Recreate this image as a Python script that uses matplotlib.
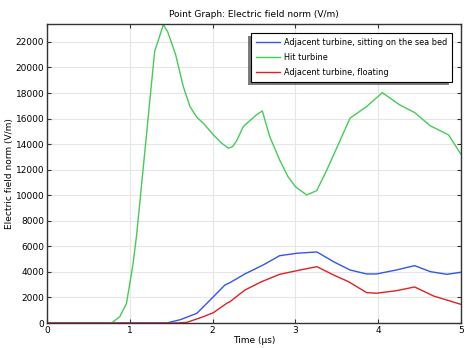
import matplotlib
matplotlib.use("Agg")
import matplotlib.pyplot as plt
import matplotlib.patheffects as pe

t_green = [0, 0.5, 0.78, 0.88, 0.96, 1.0, 1.04, 1.08, 1.12, 1.16, 1.30, 1.405, 1.457, 1.554, 1.646, 1.727, 1.81, 1.896, 2.01, 2.11, 2.19, 2.24, 2.29, 2.37, 2.45, 2.53, 2.60, 2.69, 2.81, 2.91, 3.0, 3.136, 3.257, 3.38, 3.66, 3.86, 4.05, 4.26, 4.44, 4.63, 4.85, 5.0]
e_green = [0, 0, 0, 500, 1540, 3100, 4670, 6760, 9370, 12000, 21250, 23340, 22800, 20990, 18500, 16940, 16100, 15580, 14720, 14070, 13680, 13800, 14250, 15370, 15840, 16290, 16600, 14590, 12760, 11460, 10670, 10020, 10360, 11980, 16030, 16940, 18030, 17070, 16470, 15430, 14720, 13210]

t_blue = [0, 1.0, 1.445, 1.61, 1.81, 2.01, 2.15, 2.21, 2.39, 2.61, 2.81, 3.02, 3.26, 3.46, 3.66, 3.86, 3.98, 4.22, 4.44, 4.63, 4.83, 5.0]
e_blue = [0, 0, 0, 260, 760, 2060, 2980, 3160, 3840, 4540, 5270, 5460, 5560, 4800, 4150, 3840, 3840, 4150, 4490, 4020, 3810, 3970]

t_red = [0, 1.0, 1.55, 1.69, 1.89, 2.01, 2.17, 2.21, 2.39, 2.59, 2.81, 3.02, 3.26, 3.46, 3.64, 3.86, 3.98, 4.22, 4.44, 4.67, 5.0]
e_red = [0, 0, 0, 50, 500, 810, 1540, 1670, 2580, 3230, 3810, 4100, 4410, 3760, 3240, 2380, 2330, 2530, 2820, 2110, 1460]

labels = ["Adjacent turbine, sitting on the sea bed", "Hit turbine", "Adjacent turbine, floating"]

fig = plt.figure(figsize=(4.73, 3.48), dpi=100)
ax = fig.add_axes([0.0994, 0.0718, 0.8752, 0.8592])
ax.plot(t_blue, e_blue, color="#3355ee", lw=1.0, label=labels[0])
ax.plot(t_green, e_green, color="#44cc55", lw=1.0, label=labels[1])
ax.plot(t_red, e_red, color="#dd2222", lw=1.0, label=labels[2])

ax.set_xlim(0, 5)
ax.set_ylim(0, 23400)
ax.set_xticks([0, 1, 2, 3, 4, 5])
ax.set_yticks(range(0, 23000, 2000))
ax.grid(True, color="#e6e6e6", lw=0.8)
ax.tick_params(direction="in", top=True, right=True, labelsize=6.5, length=3, pad=2,
               colors="#333333", labelcolor="black")
for s in ax.spines.values():
    s.set_color("#333333")
    s.set_linewidth(1.0)
ax.set_xlabel("Time (µs)", fontsize=6.5, labelpad=1)
ax.set_ylabel("Electric field norm (V/m)", fontsize=6.5, labelpad=1)
ax.set_title("Point Graph: Electric field norm (V/m)", fontsize=6.5, pad=5)
leg = ax.legend(loc="upper right", fontsize=5.9, frameon=True, fancybox=False, framealpha=1,
                borderaxespad=0, handlelength=3.0, handletextpad=0.4, labelspacing=0.75,
                borderpad=0.6, bbox_to_anchor=(0.978, 0.970))
leg.get_frame().set_edgecolor("black")
leg.get_frame().set_facecolor("white")
leg.get_frame().set_linewidth(0.8)
leg.get_frame().set_path_effects([pe.SimplePatchShadow(offset=(-2, -2), shadow_rgbFace="#444444", alpha=0.7), pe.Normal()])
fig.savefig("out.png", dpi=100)
